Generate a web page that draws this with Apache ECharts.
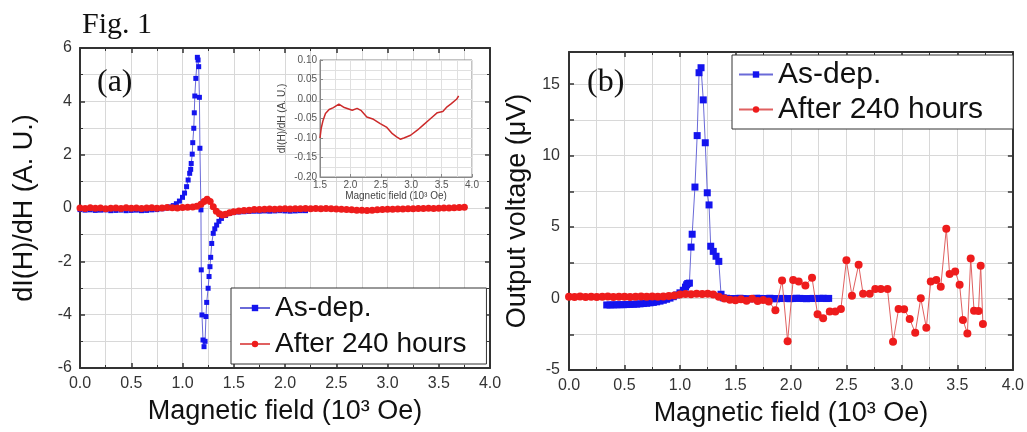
<!DOCTYPE html>
<html>
<head>
<meta charset="utf-8">
<script src="https://cdn.jsdelivr.net/npm/echarts@6/dist/echarts.min.js"></script>
<style>html,body{margin:0;padding:0;background:#fff}#c{width:1027px;height:432px}</style>
</head>
<body>
<div id="c"></div>
<script>
// ---------- Panel (a) : dI(H)/dH ----------
const aBlueX = [0.00,0.05,0.10,0.15,0.20,0.25,0.30,0.35,0.40,0.45,0.50,0.55,0.60,0.65,0.70,0.75,0.80,0.85,
  0.88,0.91,0.94,0.97,1.00,1.02,1.04,1.055,1.07,1.08,1.085,1.095,1.10,1.11,1.115,1.12,1.13,1.145,1.152,1.158,1.165,1.17,
  1.18,1.183,1.19,1.20,1.21,1.22,1.229,1.236,1.25,1.259,1.268,1.275,1.285,1.30,1.315,1.333,1.355,1.38,1.42,1.46,1.50,
  1.55,1.60,1.65,1.70,1.75,1.80,1.85,1.90,1.95,2.00,2.05,2.10,2.15,2.20];
const aBlueY = [-0.06,-0.08,-0.07,-0.09,-0.08,-0.07,-0.10,-0.09,-0.08,-0.10,-0.09,-0.08,-0.10,-0.09,-0.07,-0.06,-0.03,0.00,
  0.04,0.09,0.16,0.26,0.40,0.56,0.80,1.05,1.30,1.45,1.67,2.02,2.45,2.99,3.57,4.20,4.86,5.65,5.55,5.30,4.15,2.24,
  -0.07,-2.32,-4.01,-4.95,-5.20,-5.00,-4.07,-3.54,-3.01,-2.57,-2.20,-1.85,-1.33,-0.95,-0.78,-0.64,-0.50,-0.39,-0.28,-0.20,-0.17,
  -0.15,-0.14,-0.13,-0.12,-0.12,-0.11,-0.12,-0.11,-0.10,-0.11,-0.12,-0.11,-0.10,-0.10];
const aRedX = [0.00,0.05,0.10,0.15,0.20,0.25,0.30,0.35,0.40,0.45,0.50,0.55,0.60,0.65,0.70,0.75,0.80,0.85,0.90,0.95,1.00,1.05,
  1.10,1.14,1.18,1.21,1.24,1.27,1.30,1.33,1.36,1.39,1.42,1.46,1.50,1.55,
  1.60,1.65,1.70,1.75,1.80,1.85,1.90,1.95,2.00,2.05,2.10,2.15,2.20,2.25,2.30,2.35,2.40,2.45,2.50,2.55,2.60,2.65,
  2.70,2.75,2.80,2.85,2.90,2.95,3.00,3.05,3.10,3.15,3.20,3.25,3.30,3.35,3.40,3.45,3.50,3.55,3.60,3.65,3.70,3.75];
const aRedY = [0.00,-0.02,0.01,-0.01,0.00,-0.03,-0.01,0.00,-0.02,0.01,-0.01,0.00,-0.02,0.00,0.01,-0.01,0.00,0.02,0.01,0.00,0.02,0.03,
  0.04,0.07,0.14,0.24,0.33,0.24,0.05,-0.12,-0.22,-0.26,-0.23,-0.18,-0.14,-0.11,
  -0.09,-0.08,-0.06,-0.06,-0.05,-0.04,-0.05,-0.04,-0.03,-0.04,-0.03,-0.03,-0.02,-0.03,-0.02,-0.03,-0.02,-0.03,-0.04,-0.05,
  -0.06,-0.07,-0.08,-0.08,-0.09,-0.08,-0.07,-0.06,-0.05,-0.05,-0.04,-0.04,-0.03,-0.03,-0.02,-0.02,-0.01,-0.02,-0.01,0.00,
  0.00,0.01,0.02,0.03];
// ---------- Inset ----------
const insetX = [1.50,1.52,1.55,1.59,1.65,1.72,1.81,1.90,2.03,2.11,2.18,2.27,2.38,2.49,2.60,2.69,2.76,2.82,2.88,2.99,3.10,3.21,3.32,3.43,3.52,3.59,3.66,3.75,3.78];
const insetY = [-0.100,-0.075,-0.055,-0.037,-0.027,-0.022,-0.013,-0.022,-0.029,-0.024,-0.030,-0.046,-0.052,-0.063,-0.073,-0.089,-0.097,-0.103,-0.100,-0.093,-0.080,-0.065,-0.050,-0.035,-0.032,-0.020,-0.012,0.000,0.008];
// ---------- Panel (b) : output voltage ----------
const bBlueX = [0.34,0.37,0.40,0.43,0.46,0.49,0.52,0.55,0.58,0.61,0.64,0.67,0.70,0.73,0.76,0.79,0.82,0.85,0.88,0.91,0.94,0.97,1.00,1.03,
  1.05,1.06,1.07,1.085,1.10,1.11,1.135,1.155,1.172,1.19,1.21,1.228,1.246,1.262,1.277,1.30,1.325,1.35,1.37,
  1.39,1.42,1.45,1.48,1.51,1.54,1.57,1.60,1.63,1.66,1.69,1.72,1.75,1.78,1.81,1.84,1.87,1.90,1.93,1.96,1.99,2.02,2.05,2.08,2.11,2.14,2.17,2.20,2.23,2.26,2.29,2.32,2.34];
const bBlueY = [-0.45,-0.45,-0.44,-0.44,-0.43,-0.43,-0.42,-0.41,-0.40,-0.39,-0.37,-0.35,-0.33,-0.30,-0.27,-0.23,-0.18,-0.12,-0.05,0.03,0.13,0.25,0.40,0.58,
  0.80,0.96,1.05,1.08,3.6,4.5,7.8,11.4,15.8,16.15,13.9,10.9,7.4,6.55,3.66,3.3,2.96,2.6,0.3,
  0.05,0.02,0.00,-0.02,0.00,0.02,0.00,-0.03,-0.02,0.00,0.02,0.01,-0.01,0.00,0.02,0.00,-0.02,0.00,0.01,0.00,-0.01,0.00,0.02,0.01,0.00,-0.01,0.00,0.01,0.00,0.01,0.02,0.00,0.01];
const bRedX = [0.00,0.05,0.10,0.15,0.20,0.25,0.30,0.35,0.40,0.45,0.50,0.55,0.60,0.65,0.70,0.75,0.80,0.85,0.90,0.95,1.00,1.05,1.10,1.15,1.20,1.25,1.30,1.35,1.40,1.45,1.50,1.55,1.60,1.65,1.70,1.75,1.80,
  1.86,1.92,1.97,2.02,2.07,2.13,2.19,2.24,2.29,2.35,2.40,2.45,2.50,2.55,2.61,2.65,2.71,2.76,2.81,2.87,2.92,2.97,3.02,3.07,3.12,3.17,3.22,3.26,3.31,3.35,3.40,3.43,3.48,3.52,3.55,3.59,3.62,3.65,3.69,3.71,3.73];
const bRedY = [0.12,0.10,0.14,0.11,0.13,0.10,0.12,0.14,0.11,0.13,0.12,0.10,0.13,0.15,0.12,0.14,0.13,0.15,0.18,0.22,0.28,0.32,0.30,0.34,0.31,0.33,0.28,0.12,0.00,-0.08,-0.12,-0.05,-0.15,-0.02,-0.18,-0.10,-0.20,
  -0.82,1.27,-2.98,1.29,1.20,0.92,1.45,-1.10,-1.38,-0.91,-0.91,-0.73,2.68,0.19,2.37,0.33,0.33,0.66,0.66,0.66,-3.03,-0.73,-0.75,-1.43,-2.39,0.02,-2.04,1.20,1.29,0.82,4.88,1.71,1.90,0.96,-1.50,-2.44,2.80,-0.85,-0.87,2.30,-1.78];

const seriesNames = ['As-dep.', 'After 240 hours'];

function pts(xs, ys) { return xs.map((x, i) => [x, ys[i]]); }

const SANS = '"Liberation Sans", Arial, sans-serif';
const SERIF = '"Liberation Serif", "Times New Roman", serif';
const gridLine = { show: true, lineStyle: { color: '#d8d8d8', width: 1 } };
const axLine = { show: true, onZero: false, lineStyle: { color: '#333', width: 2 } };
const tick = { show: true, inside: true, length: 5, lineStyle: { color: '#333', width: 1.5 } };
const minorTick = { show: true, splitNumber: 2, length: 3, lineStyle: { color: '#333', width: 1 } };
const lab = { fontFamily: SANS, fontSize: 16, color: '#333' };
const nameStyle = { fontFamily: SANS, fontSize: 27, color: '#111' };

function mainX(grid, min, max, interval, name, pos) {
  const top = pos === 'top';
  return {
    type: 'value', gridIndex: grid, position: pos || 'bottom', min, max, interval,
    axisLine: axLine, axisTick: tick, minorTick,
    splitLine: top ? { show: false } : gridLine,
    minorSplitLine: top ? { show: false } : gridLine,
    axisLabel: top ? { show: false } : Object.assign({ margin: 8, formatter: v => v.toFixed(1) }, lab),
    name: top ? '' : name, nameLocation: 'middle', nameGap: 30, nameTextStyle: nameStyle
  };
}

const chart = echarts.init(document.getElementById('c'), null, { renderer: 'canvas' });
const option = {
  animation: false,
  backgroundColor: '#fff',
  grid: [
    { left: 80, top: 48, width: 410, height: 320, show: true, borderWidth: 0, backgroundColor: 'transparent' },
    { left: 320, top: 60, width: 152, height: 117, show: true, borderColor: '#888', borderWidth: 1, backgroundColor: '#fff', z: 5 },
    { left: 569, top: 52, width: 444, height: 318, show: true, borderWidth: 0, backgroundColor: 'transparent' }
  ],
  xAxis: [
    mainX(0, 0, 4, 0.5, 'Magnetic field (10\u00B3 Oe)'),
    mainX(0, 0, 4, 0.5, '', 'top'),
    {
      type: 'value', gridIndex: 1, min: 1.5, max: 4.0, interval: 0.5, z: 6,
      axisLine: { show: true, onZero: false, lineStyle: { color: '#888', width: 1 } },
      axisTick: { show: true, inside: true, length: 3, lineStyle: { color: '#888' } },
      splitLine: { show: true, lineStyle: { color: '#e0e0e0' } },
      minorSplitLine: { show: true, lineStyle: { color: '#e0e0e0' } },
      minorTick: { show: false, splitNumber: 2 },
      axisLabel: { fontFamily: SANS, fontSize: 10, color: '#555', margin: 3, formatter: v => v.toFixed(1) },
      name: 'Magnetic field (10\u00B3 Oe)', nameLocation: 'middle', nameGap: 14,
      nameTextStyle: { fontFamily: SANS, fontSize: 10, color: '#444' }
    },
    mainX(2, 0, 4, 0.5, 'Magnetic field (10\u00B3 Oe)'),
    mainX(2, 0, 4, 0.5, '', 'top')
  ],
  yAxis: [
    {
      type: 'value', gridIndex: 0, min: -6, max: 6, interval: 2,
      axisLine: axLine, axisTick: tick, minorTick, splitLine: gridLine, minorSplitLine: gridLine,
      axisLabel: Object.assign({ margin: 8 }, lab),
      name: 'dI(H)/dH (A. U.)', nameLocation: 'middle', nameGap: 42, nameTextStyle: nameStyle
    },
    {
      type: 'value', gridIndex: 0, position: 'right', min: -6, max: 6, interval: 2,
      axisLine: axLine, axisTick: tick, minorTick, splitLine: { show: false }, axisLabel: { show: false }
    },
    {
      type: 'value', gridIndex: 1, min: -0.2, max: 0.1, interval: 0.05, z: 6,
      axisLine: { show: true, onZero: false, lineStyle: { color: '#888', width: 1 } },
      axisTick: { show: true, inside: true, length: 3, lineStyle: { color: '#888' } },
      splitLine: { show: true, lineStyle: { color: '#e0e0e0' } },
      minorSplitLine: { show: true, lineStyle: { color: '#e0e0e0' } },
      minorTick: { show: false, splitNumber: 2 },
      axisLabel: { fontFamily: SANS, fontSize: 10, color: '#555', margin: 3, formatter: v => v.toFixed(2) },
      name: 'dI(H)/dH (A. U.)', nameLocation: 'middle', nameGap: 33,
      nameTextStyle: { fontFamily: SANS, fontSize: 10, color: '#444' }
    },
    {
      type: 'value', gridIndex: 2, min: -5, max: 17.25, interval: 2.5,
      axisLine: axLine, axisTick: tick, splitLine: gridLine,
      axisLabel: Object.assign({ margin: 9, formatter: v => (Math.abs(v % 5) < 1e-9 ? String(v) : '') }, lab),
      name: 'Output voltage (\u03BCV)', nameLocation: 'middle', nameGap: 38, nameTextStyle: nameStyle
    },
    {
      type: 'value', gridIndex: 2, position: 'right', min: -5, max: 17.25, interval: 2.5,
      axisLine: axLine, axisTick: tick, splitLine: { show: false }, axisLabel: { show: false }
    }
  ],
  legend: [
    {
      data: seriesNames, orient: 'vertical', left: 231, top: 288, z: 10,
      backgroundColor: '#fff', borderColor: '#333', borderWidth: 1, borderRadius: 0,
      padding: [4, 20, 4, 8], itemGap: 4, itemWidth: 30, itemHeight: 8,
      textStyle: { fontFamily: SANS, fontSize: 28, color: '#111', lineHeight: 32 }
    },
    {
      data: seriesNames, orient: 'vertical', left: 732, top: 55, z: 10,
      backgroundColor: '#fff', borderColor: '#333', borderWidth: 1, borderRadius: 0,
      padding: [3, 30, 3, 6], itemGap: 2, itemWidth: 34, itemHeight: 8,
      textStyle: { fontFamily: SANS, fontSize: 30, color: '#111', lineHeight: 33 }
    }
  ],
  series: [
    {
      name: seriesNames[0], type: 'line', xAxisIndex: 0, yAxisIndex: 0, data: pts(aBlueX, aBlueY),
      symbol: 'rect', symbolSize: 5, showAllSymbol: true,
      itemStyle: { color: '#1414ee' }, lineStyle: { color: '#6a6ad8', width: 1 }, z: 2
    },
    {
      name: seriesNames[1], type: 'line', xAxisIndex: 0, yAxisIndex: 0, data: pts(aRedX, aRedY),
      symbol: 'circle', symbolSize: 7, showAllSymbol: true,
      itemStyle: { color: '#ee1c1c' }, lineStyle: { color: '#e06060', width: 1 }, z: 3
    },
    {
      name: 'inset', type: 'line', xAxisIndex: 2, yAxisIndex: 2, data: pts(insetX, insetY),
      symbol: 'none', lineStyle: { color: '#cc2a2a', width: 1.5 }, z: 7
    },
    {
      name: seriesNames[0], type: 'line', xAxisIndex: 3, yAxisIndex: 3, data: pts(bBlueX, bBlueY),
      symbol: 'rect', symbolSize: 7, showAllSymbol: true,
      itemStyle: { color: '#1414ee' }, lineStyle: { color: '#6a6ad8', width: 1 }, z: 2
    },
    {
      name: seriesNames[1], type: 'line', xAxisIndex: 3, yAxisIndex: 3, data: pts(bRedX, bRedY),
      symbol: 'circle', symbolSize: 8, showAllSymbol: true,
      itemStyle: { color: '#ee1c1c' }, lineStyle: { color: '#e06060', width: 1 }, z: 3
    }
  ],
  graphic: [
    { type: 'text', left: 82, top: 10, z: 20, style: { text: 'Fig. 1', font: '30px ' + SERIF, fill: '#111' } },
    { type: 'text', left: 97, top: 67, z: 20, style: { text: '(a)', font: '32px ' + SERIF, fill: '#111' } },
    { type: 'text', left: 587, top: 67, z: 20, style: { text: '(b)', font: '32px ' + SERIF, fill: '#111' } }
  ]
};
chart.setOption(option);
</script>
</body>
</html>
